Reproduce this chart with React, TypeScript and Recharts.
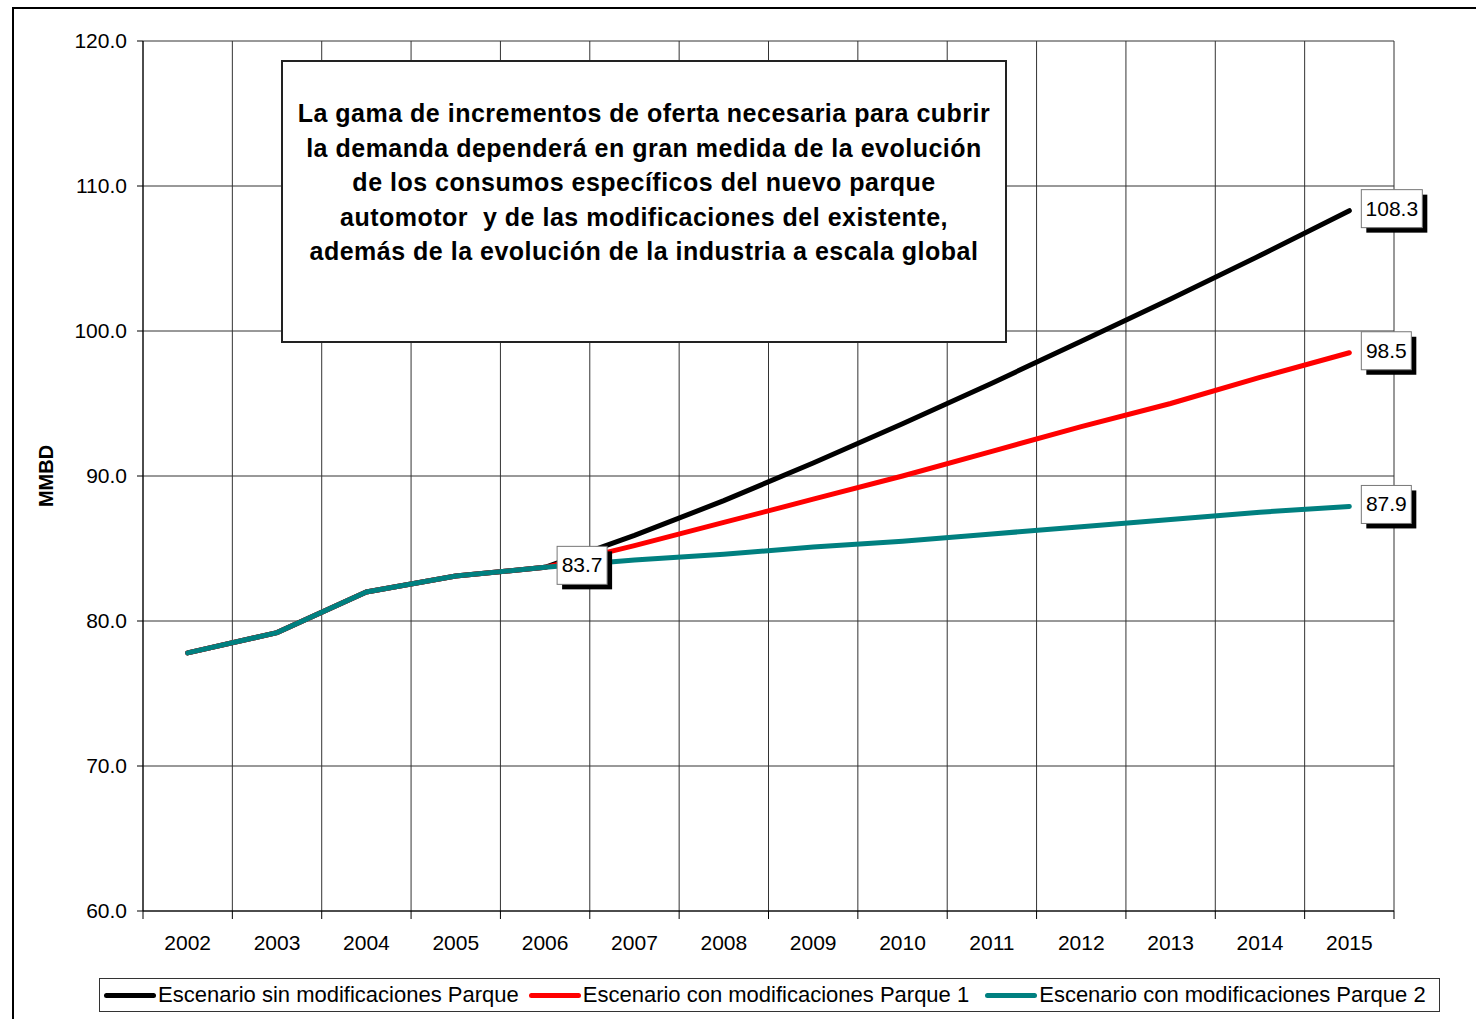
import React from 'react';
import { LineChart, Line, XAxis, YAxis, CartesianGrid, LabelList, Legend } from 'recharts';

const years = ['2002', '2003', '2004', '2005', '2006', '2007', '2008', '2009', '2010', '2011', '2012', '2013', '2014', '2015'];
const sinModificaciones = [77.8, 79.2, 82.0, 83.1, 83.7, 85.9, 88.3, 90.9, 93.6, 96.4, 99.3, 102.2, 105.2, 108.3];
const conModificaciones1 = [77.8, 79.2, 82.0, 83.1, 83.7, 85.2, 86.8, 88.4, 90.0, 91.7, 93.4, 95.0, 96.8, 98.5];
const conModificaciones2 = [77.8, 79.2, 82.0, 83.1, 83.7, 84.2, 84.6, 85.1, 85.5, 86.0, 86.5, 87.0, 87.5, 87.9];
const yTicks = [60, 70, 80, 90, 100, 110, 120];

const seriesNames = [
  'Escenario sin modificaciones Parque',
  'Escenario con modificaciones Parque 1',
  'Escenario con modificaciones Parque 2',
];
const seriesColors = ['#000000', '#ff0000', '#008080'];

const boxText = [
  'La gama de incrementos de oferta necesaria para cubrir',
  'la demanda dependerá en gran medida de la evolución',
  'de los consumos específicos del nuevo parque',
  'automotor  y de las modificaciones del existente,',
  'además de la evolución de la industria a escala global',
];

const data = years.map((y, i) => ({
  year: y,
  s0: sinModificaciones[i],
  s1: conModificaciones1[i],
  s2: conModificaciones2[i],
}));

const W = 1476;
const H = 1019;
const M = { top: 41, right: 82, left: 63, bottom: 68 };
const PLOT_W = W - M.left - 80 - M.right;
const BAND = PLOT_W / years.length;
const FONT = '"Liberation Sans", Arial, sans-serif';

const XTick = (props: any) => {
  const { x, y, index } = props;
  const left = x - BAND / 2;
  return (
    <g>
      <line x1={left} y1={y - 8} x2={left} y2={y} stroke="#000" strokeWidth={1} />
      {index === years.length - 1 && (
        <line x1={left + BAND} y1={y - 8} x2={left + BAND} y2={y} stroke="#000" strokeWidth={1} />
      )}
      <text x={x} y={y + 31} textAnchor="middle" fontSize={21} fontFamily={FONT} fill="#000">
        {props.payload.value}
      </text>
    </g>
  );
};

// value box with a black drop shadow
const makeBox = (showAt: number) => (props: any) => {
  const { x, y, value, index } = props;
  if (index !== showAt) return null;
  const txt = Number(value).toFixed(1);
  const w = txt.length * 11 + 6;
  const h = 38;
  const bx = x + 12;
  const by = y - 21;
  return (
    <g>
      <rect x={bx + 5} y={by + 5} width={w} height={h} fill="#000" />
      <rect x={bx} y={by} width={w} height={h} fill="#fff" stroke="#777" strokeWidth={1} />
      <text x={bx + w / 2} y={by + 26} textAnchor="middle" fontSize={21} fontFamily={FONT} fill="#000">
        {txt}
      </text>
    </g>
  );
};

const legendGaps = [4, 10, 16];

const LegendBox = () => (
  <div
    style={{
      position: 'absolute',
      left: 99 - 8,
      top: 978 - 1005,
      width: 1341,
      height: 34,
      border: '1px solid #333',
      boxSizing: 'border-box',
      fontFamily: FONT,
      fontSize: 22,
      display: 'flex',
      alignItems: 'center',
      whiteSpace: 'nowrap',
    }}
  >
    {seriesNames.map((n, i) => (
      <div key={n} style={{ display: 'flex', alignItems: 'center', marginLeft: legendGaps[i] }}>
        <div style={{ width: 52, height: 5, borderRadius: 3, background: seriesColors[i], marginRight: 2 }} />
        <span>{n}</span>
      </div>
    ))}
  </div>
);

export default function App() {
  return (
    <div style={{ position: 'absolute', left: 0, top: 0, width: W, height: H, background: '#fff', fontFamily: FONT, overflow: 'hidden' }}>
      <div style={{ position: 'absolute', left: 12, top: 7, width: W, height: H, borderLeft: '2px solid #000', borderTop: '2px solid #000' }} />
      <LineChart width={W} height={H} data={data} margin={M} style={{ position: 'absolute', left: 0, top: 0 }}>
        <CartesianGrid
          stroke="#333"
          strokeWidth={1}
          verticalCoordinatesGenerator={({ offset }: any) =>
            years.map((_, i) => offset.left + i * (offset.width / years.length)).concat([offset.left + offset.width])
          }
        />
        <XAxis
          dataKey="year"
          scale="band"
          height={40}
          axisLine={{ stroke: '#000' }}
          tickLine={false}
          tick={<XTick />}
          interval={0}
        />
        <YAxis
          domain={[60, 120]}
          ticks={yTicks}
          width={80}
          axisLine={{ stroke: '#000' }}
          tickLine={{ stroke: '#000' }}
          tickSize={6}
          tickMargin={10}
          tickFormatter={(v: number) => v.toFixed(1)}
          tick={{ fontSize: 21, fontFamily: FONT, fill: '#000' }}
          label={{
            value: 'MMBD',
            angle: -90,
            position: 'insideLeft',
            dx: -22,
            style: { fontSize: 20, fontWeight: 'bold', fontFamily: FONT, fill: '#000', textAnchor: 'middle' },
          }}
        />
        <Legend content={<LegendBox />} wrapperStyle={{ position: 'absolute', left: 8, top: 1005 }} />
        <Line dataKey="s0" name={seriesNames[0]} stroke={seriesColors[0]} strokeWidth={5} strokeLinecap="round" dot={false} isAnimationActive={false}>
          <LabelList dataKey="s0" content={makeBox(13)} />
        </Line>
        <Line dataKey="s1" name={seriesNames[1]} stroke={seriesColors[1]} strokeWidth={5} strokeLinecap="round" dot={false} isAnimationActive={false}>
          <LabelList dataKey="s1" content={makeBox(13)} />
        </Line>
        <Line dataKey="s2" name={seriesNames[2]} stroke={seriesColors[2]} strokeWidth={5} strokeLinecap="round" dot={false} isAnimationActive={false}>
          <LabelList dataKey="s2" content={(p: any) => makeBox(13)(p) || makeBox(4)(p)} />
        </Line>
      </LineChart>
      <div
        style={{
          position: 'absolute',
          left: 281,
          top: 60,
          width: 726,
          height: 283,
          boxSizing: 'border-box',
          border: '2px solid #222',
          background: '#fff',
          textAlign: 'center',
          fontWeight: 'bold',
          fontSize: 25,
          letterSpacing: 0.5,
          lineHeight: '34.5px',
          paddingTop: 34,
          fontFamily: FONT,
          color: '#000',
          whiteSpace: 'pre',
        }}
      >
        {boxText.join('\n')}
      </div>
    </div>
  );
}
